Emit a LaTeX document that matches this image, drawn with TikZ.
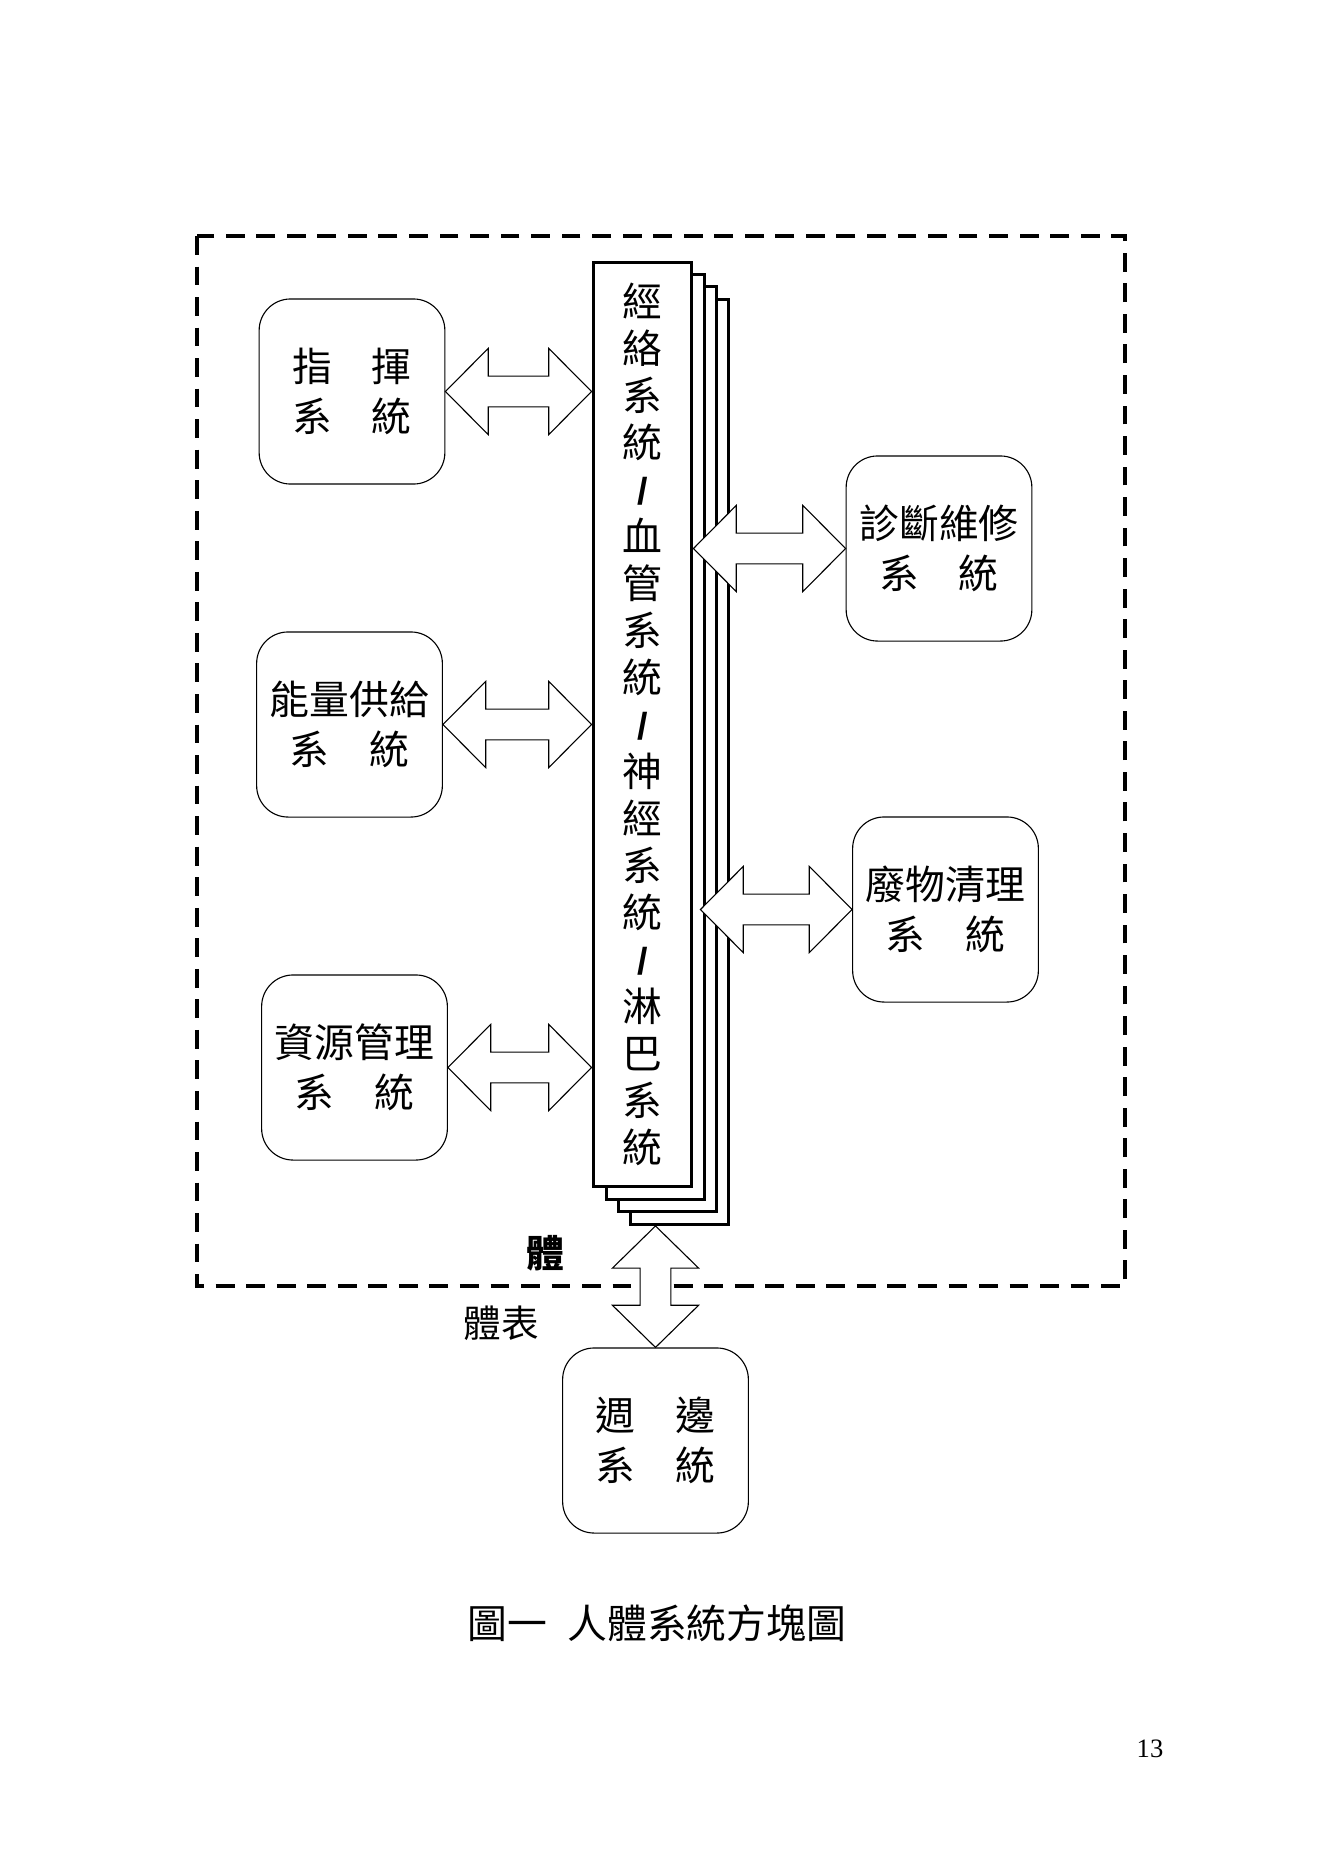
\documentclass[tikz,border=0pt]{standalone}
\usepackage{fontspec}
\setmainfont{Liberation Serif}
\newfontfamily\cjk{Noto Sans CJK TC}
\newfontfamily\slashfont{Liberation Sans}
\usepackage{tikz}
\usetikzlibrary{calc,positioning}

% short bold separator in the vertical text
\newcommand{\barsep}{{\slashfont\bfseries\fontsize{17pt}{21.25pt}\selectfont/}}

% hollow double-headed block arrows (first point is the left/top tip)
\newcommand{\dblarrowh}[2]{%
  \draw[blockarr] let \p1=(#1), \p2=(#2) in
    (\x1,\y1) -- (\x1+6.8mm,\y1+6.85mm) -- (\x1+6.8mm,\y1+2.45mm)
    -- (\x2-6.8mm,\y1+2.45mm) -- (\x2-6.8mm,\y1+6.85mm) -- (\x2,\y1)
    -- (\x2-6.8mm,\y1-6.85mm) -- (\x2-6.8mm,\y1-2.45mm)
    -- (\x1+6.8mm,\y1-2.45mm) -- (\x1+6.8mm,\y1-6.85mm) -- cycle;}
\newcommand{\dblarrowv}[2]{%
  \draw[blockarr] let \p1=(#1), \p2=(#2) in
    (\x1,\y1) -- (\x1+6.85mm,\y1-6.7mm) -- (\x1+2.45mm,\y1-6.7mm)
    -- (\x1+2.45mm,\y2+6.7mm) -- (\x1+6.85mm,\y2+6.7mm) -- (\x1,\y2)
    -- (\x1-6.85mm,\y2+6.7mm) -- (\x1-2.45mm,\y2+6.7mm)
    -- (\x1-2.45mm,\y1-6.7mm) -- (\x1-6.85mm,\y1-6.7mm) -- cycle;}

\begin{document}
\begin{tikzpicture}[
  x=0.15885mm, y=-0.15885mm,
  every node/.style={font=\cjk\fontsize{18pt}{22.5pt}\selectfont},
  sysbox/.style={draw, line width=0.5pt, rounded corners=5mm, inner sep=0pt,
             minimum width=29.5mm, minimum height=29.4mm, align=center},
  layer/.style={draw, line width=1.4pt, fill=white, inner sep=0pt,
             minimum width=15.7mm, minimum height=146.9mm},
  blockarr/.style={draw, line width=0.5pt, fill=white},
  frame/.style={line width=1.5pt, dash pattern=on 8.5pt off 5.3pt},
]
\useasboundingbox (0,0) rectangle (1322,1871);

% Body boundary
\draw[frame] (197,236) rectangle (1125,1286);

% Central bus: stacked sheets
\node[layer] (layer4) at (679.5,762) {};
\node[layer] (layer3) at (667.5,749) {};
\node[layer] (layer2) at (655.5,737) {};
\node[layer, align=center, font=\cjk\fontsize{18pt}{21.25pt}\selectfont] (bar) at (642.5,724.5)
  {經\\絡\\系\\統\\\barsep\\血\\管\\系\\統\\\barsep\\神\\經\\系\\統\\\barsep\\淋\\巴\\系\\統};

% Left column
\node[sysbox] (cmd) at (352,391.5) {指\hspace{1em}揮\\系\hspace{1em}統};
\node[sysbox] (energy) at (349.5,724.5) {能量供給\\系\hspace{1em}統};
\node[sysbox] (res) at (354.5,1067.5) {資源管理\\系\hspace{1em}統};

% Right column
\node[sysbox] (diag) at (939,548.5) {診斷維修\\系\hspace{1em}統};
\node[sysbox] (waste) at (945.5,909.5) {廢物清理\\系\hspace{1em}統};

% Outside the body
\node[sysbox] (periph) at (655.5,1440.5) {週\hspace{1em}邊\\系\hspace{1em}統};

% Arrows
\dblarrowh{cmd.east}{bar.west |- cmd.east}
\dblarrowh{energy.east}{bar.west |- energy.east}
\dblarrowh{res.east}{bar.west |- res.east}
\dblarrowh{bar.east |- diag.west}{diag.west}
\dblarrowh{$(bar.east |- waste.west)+(7,0)$}{waste.west}
\dblarrowv{layer4.south -| periph.north}{periph.north}

% Labels
\node[font=\cjk\bfseries\fontsize{17pt}{17pt}\selectfont] (inside) at (545,1253) {體};
\node[font=\cjk\fontsize{17pt}{17pt}\selectfont] (surface) at (501,1323) {體表};

% Caption
\node (caption) at (657,1623) {圖一\hspace{0.5em}人體系統方塊圖};
\node[font=\rmfamily\fontsize{12pt}{14pt}\selectfont] (pagenum) at (1150,1749) {13};

\end{tikzpicture}
\end{document}
